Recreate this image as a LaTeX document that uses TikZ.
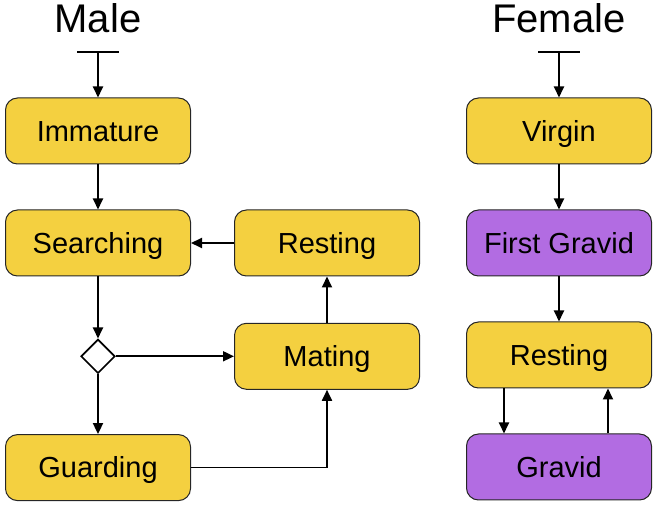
\documentclass[tikz,border=0pt]{standalone}
\usepackage{fontspec}
\setmainfont{Liberation Sans}
\usepackage{xcolor}
\usepackage{tikz}
\usetikzlibrary{positioning,shapes.geometric,arrows.meta}
\definecolor{stateyellow}{RGB}{244,208,64}
\definecolor{statepurple}{RGB}{178,108,226}

\begin{document}
\begin{tikzpicture}[
  x=1pt, y=1pt,
  font=\fontsize{29}{34}\selectfont,
  state/.style={draw=black!85, rounded corners=12pt, minimum width=185pt, minimum height=66pt, inner sep=0pt, text height=20.8pt, text depth=0pt, line width=1pt},
  yel/.style={state, fill=stateyellow},
  pur/.style={state, fill=statepurple},
  choice/.style={draw, diamond, fill=white, minimum size=34pt, inner sep=0pt, line width=1.6pt},
  arr/.style={-{Triangle[length=11pt,width=10pt]}, line width=1.8pt},
  bar/.style={line width=1.8pt},
  title/.style={font=\fontsize{40}{48}\selectfont, anchor=base},
]
\useasboundingbox (0,0) rectangle (657,-505);
% male
\node[title] (male) at (98,-33) {Male};
\coordinate (mstart) at (98,-52);
\node[yel] (imm) at (98,-131) {Immature};
\node[yel, below=45pt of imm] (search) {Searching};
\node[yel, right=43pt of search] (mrest) {Resting};
\node[choice, below=62pt of search] (pick) {};
\node[yel] (mating) at (mrest |- pick) {Mating};
\node[yel, below=60pt of pick] (guard) {Guarding};
\draw[bar] ([xshift=-21pt]mstart) -- ([xshift=21pt]mstart);
\draw[arr] (mstart) -- (imm);
\draw[arr] (imm) -- (search);
\draw[arr] (search) -- (pick);
\draw[arr] (pick) -- (guard);
\draw[arr] (pick) -- (mating);
\draw[arr] (guard) -| (mating);
\draw[arr] (mating) -- (mrest);
\draw[arr] (mrest) -- (search);
% female
\node[title] (female) at (559,-33) {Female};
\coordinate (fstart) at (559,-52);
\node[yel] (virgin) at (559,-131) {Virgin};
\node[pur, below=45pt of virgin] (first) {First Gravid};
\node[yel, below=45pt of first] (frest) {Resting};
\node[pur, below=45pt of frest] (gravid) {Gravid};
\draw[bar] ([xshift=-21pt]fstart) -- ([xshift=21pt]fstart);
\draw[arr] (fstart) -- (virgin);
\draw[arr] (virgin) -- (first);
\draw[arr] (first) -- (frest);
\draw[arr] ([xshift=-55pt]frest.south) -- ([xshift=-55pt]gravid.north);
\draw[arr] ([xshift=49pt]gravid.north) -- ([xshift=49pt]frest.south);
\end{tikzpicture}
\end{document}
